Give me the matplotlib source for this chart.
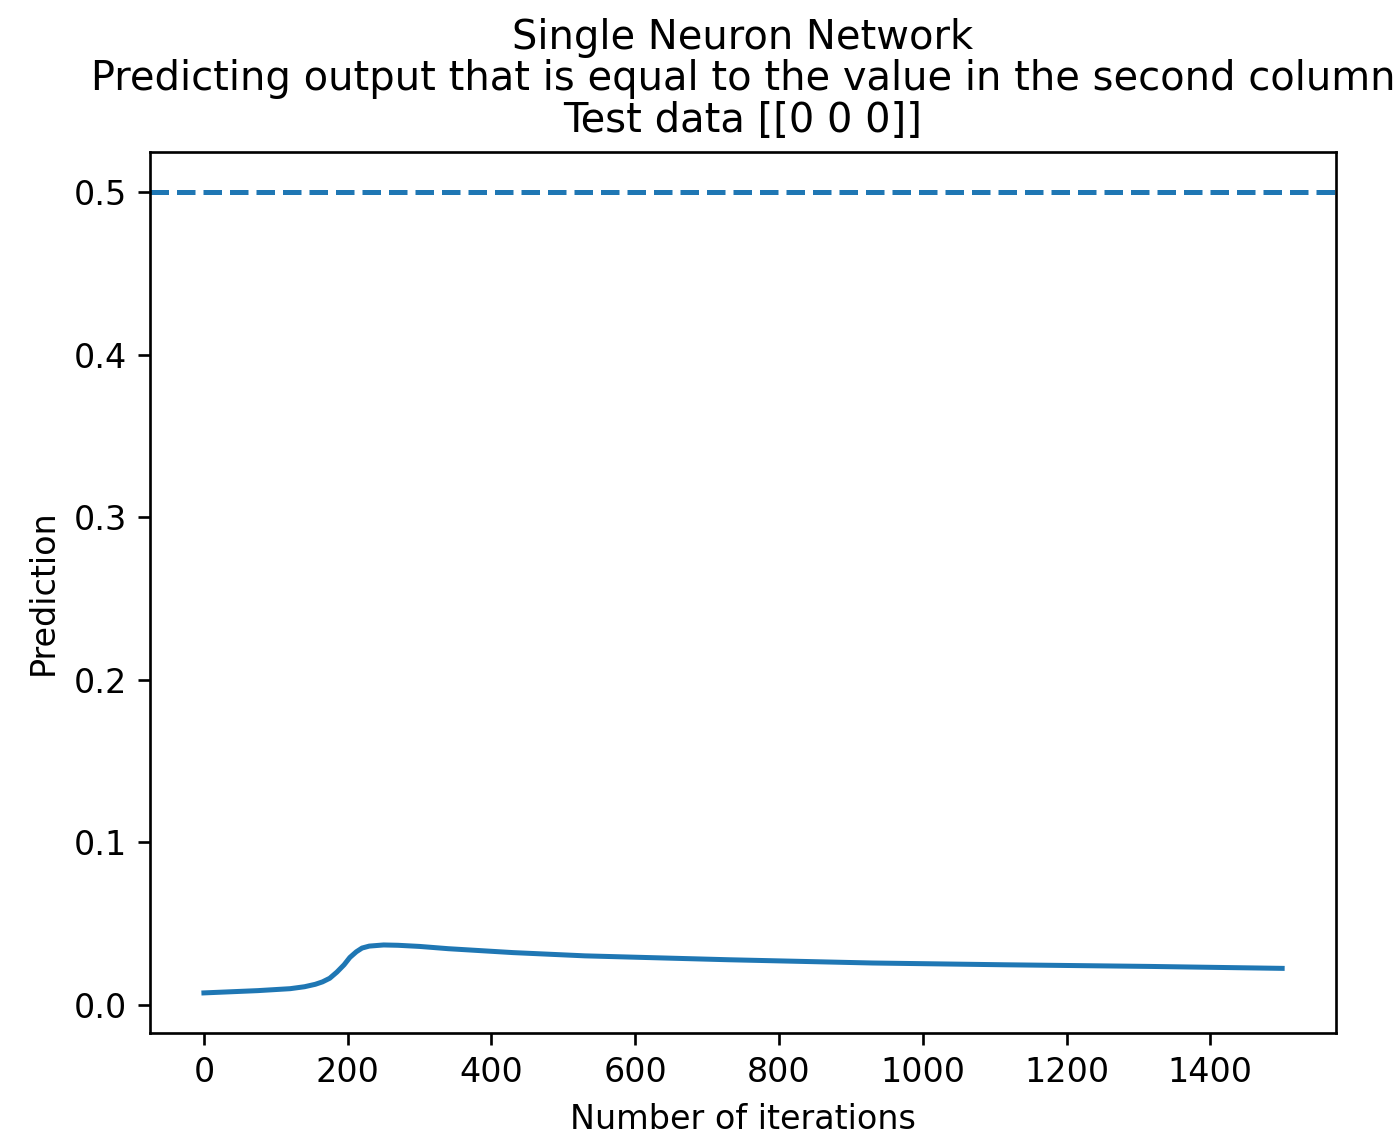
import numpy as np
import matplotlib
matplotlib.use('Agg')
import matplotlib.pyplot as plt

# Prediction history
iterations = [0, 75, 120, 140, 155, 165, 175, 185, 195, 203, 212, 220, 230,
              250, 270, 300, 340, 430, 530, 730, 930, 1115, 1315, 1500]
prediction = [0.0072, 0.0086, 0.0098, 0.0110, 0.0125, 0.0140, 0.0162, 0.0200,
              0.0245, 0.0290, 0.0325, 0.0348, 0.0360, 0.0367, 0.0365, 0.0358,
              0.0344, 0.0320, 0.0300, 0.0276, 0.0256, 0.0245, 0.0235, 0.0223]
target_line = 0.5

fig = plt.figure(figsize=(1398 / 240, 1141 / 240), dpi=240)
ax = fig.add_axes([0.1073, 0.0947, 0.8484, 0.7721])
ax.plot(iterations, prediction, color='C0')
ax.axhline(target_line, color='C0', linestyle='--')
ax.set_title('Single Neuron Network\n'
             'Predicting output that is equal to the value in the second column\n'
             'Test data [[0 0 0]]', linespacing=1.05)
ax.set_xlabel('Number of iterations')
ax.set_ylabel('Prediction')

fig.savefig('out.png', dpi=240)
